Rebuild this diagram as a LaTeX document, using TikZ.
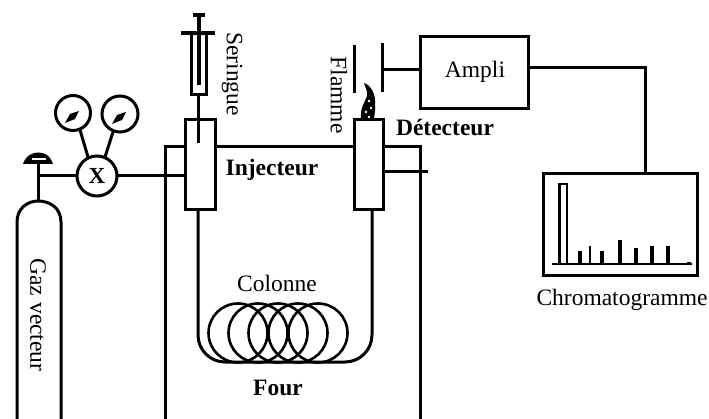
\documentclass[tikz,border=0pt]{standalone}
\usepackage{fontspec}
\setmainfont{Liberation Serif}
\usetikzlibrary{arrows}
\tikzset{
  boite/.style={draw=black,fill=white,line width=3pt,inner sep=0pt,outer sep=0pt},
  rond/.style={boite,circle},
  trait/.style={line width=3pt},
  fin/.style={line width=1.8pt},
  etiq/.style={font=\fontsize{23.5}{23.5}\selectfont,inner sep=0pt},
  titre/.style={font=\fontsize{23.5}{23.5}\selectfont\bfseries,inner sep=0pt}
}
\begin{document}
\begin{tikzpicture}[line cap=butt,line join=miter,x=1pt,y=-1pt]
\useasboundingbox (0,0) rectangle (709,419);
\coordinate (fourg) at (165,419);
\coordinate (fourd) at (420,419);
\coordinate (sonde) at (428,172);
\coordinate (robinet) at (38,176);
\coordinate (chapeau) at (38,163);
\coordinate (ogive) at (38,201);
\coordinate (bas) at (285,362);
\node [boite,minimum width=30pt,minimum height=90pt] (injecteur) at (200,165) {};
\node [boite,minimum width=29pt,minimum height=90pt] (detecteur) at (368.5,165) {};
\node [boite,minimum width=108pt,minimum height=72pt] (ampli) at (474,73) {};
\node [boite,minimum width=154pt,minimum height=102pt] (chrom) at (620.5,225) {};
\node [boite,minimum width=15pt,minimum height=62pt] (corps) at (198.5,64) {};
\node [rond,minimum size=40pt] (vanne) at (97,176) {};
\node [rond,minimum size=35pt] (mano1) at (73,113) {};
\node [rond,minimum size=36pt] (mano2) at (120,114) {};
\draw [trait] (fourg) |- ([yshift=18pt]injecteur.west);
\draw [trait] ([yshift=18pt]injecteur.east) -- ([yshift=18pt]detecteur.west);
\draw [trait] ([yshift=18pt]detecteur.east) -| (fourd);
\draw [trait] ([yshift=-7pt]detecteur.east) -- (sonde);
\draw [trait] (vanne.east) -- (vanne.east -| injecteur.west);
\draw [trait] (vanne.west) -- (robinet);
\draw [trait] (chapeau) -- (ogive);
\draw [trait] (80,130) -- (88,157);
\draw [trait] (113,132) -- (105,157);
\draw [trait] ([yshift=3pt]ampli.west) -- ([yshift=3pt]ampli.west -| 382,0);
\draw [trait] ([yshift=5pt]ampli.east) -| ([xshift=24.5pt]chrom.north);
\draw [trait] (corps.south) -- (198.5,143);
\draw [trait,rounded corners=27pt] ([xshift=-2pt]injecteur.south) |- (bas) -| ([xshift=3.5pt]detecteur.south);
\foreach \cx in {238,258,278,298,318}
  \draw [line width=2.6pt] (\cx,333) circle (29.5);
\draw [trait] (17,419) -- (17,222) .. controls (17,208) and (28,201) .. (ogive) .. controls (50,201) and (61,208) .. (61,222) -- (61,419);
\fill (23,164) .. controls (26,155) and (33,152.5) .. (38.5,152.5) .. controls (44,152.5) and (50,155) .. (53,164) -- cycle;
\fill [white] (32,160.5) rectangle (46,158.5);
\draw [line width=3.4pt] (181,33) -- (215,33);
\draw [line width=3.4pt] (193,15) -- (205,15);
\draw [line width=4pt] (198.5,15) -- (198.5,85);
\draw [trait] (354,45) -- (354,93);
\draw [trait] (382,43) -- (382,92);
\fill (361,120) .. controls (360,108) and (364,104) .. (367,96) .. controls (368,91) and (365,87) .. (364,83) .. controls (371,85) and (376,95) .. (375,104) .. controls (376,110) and (374,114) .. (374,120) -- cycle;
\foreach \tx/\ty in {369/101,371/108,366/112,369/117}
  \fill [white] (\tx,\ty) circle (1.3);
\fill (65,123) -- (70,114) -- (79,111) -- (75,119) -- cycle;
\fill (112,124) -- (117,115) -- (126,112) -- (122,120) -- cycle;
\draw [fin] (552,264) -- (692,264);
\draw [line width=2.6pt] (559.5,264) -- (559.5,184) -- (567,184) -- (567,264);
\foreach \px/\py in {580/251,602/251,620/240,636/248,652/246,668/246,689/262}
  \draw [line width=3.4pt] (\px,264) -- (\px,\py);
\draw [fin] (590,264) -- (590,246);
\node [font=\fontsize{23}{23}\selectfont\bfseries,inner sep=0pt] (croix) at (97,176) {X};
\node [etiq] (lampli) at (475,72) {Ampli};
\node [etiq,rotate=-90] (lseringue) at (232,74) {Seringue};
\node [etiq,rotate=-90] (lflamme) at (339,95) {Flamme};
\node [etiq,rotate=-90] (lgaz) at (38,315) {Gaz vecteur};
\node [etiq] (lcolonne) at (277,283) {Colonne};
\node [etiq] (lchrom) at (622,300) {Chromatogramme};
\node [titre] (linjecteur) at (272,170) {Injecteur};
\node [titre] (ldetecteur) at (445,127) {Détecteur};
\node [titre] (lfour) at (278,388) {Four};
\end{tikzpicture}
\end{document}
